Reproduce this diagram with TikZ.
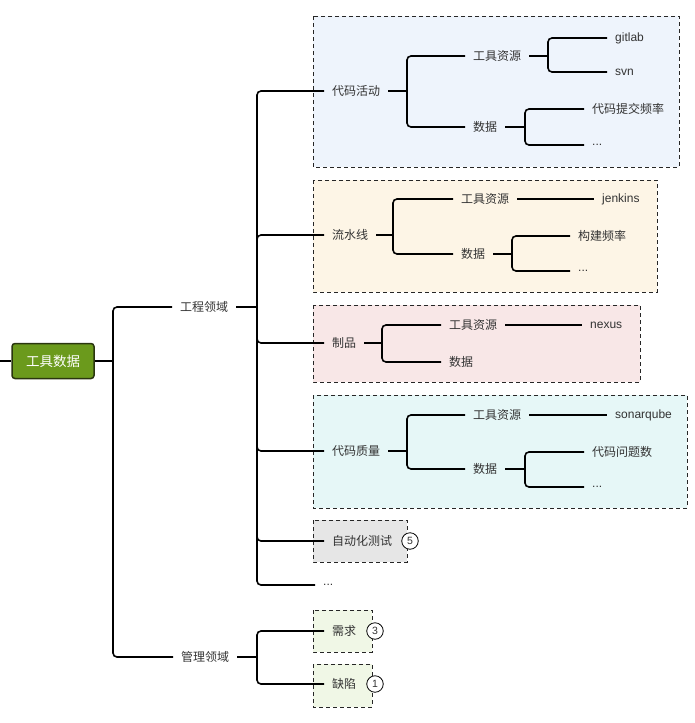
\documentclass[tikz,border=0pt]{standalone}
\usepackage{fontspec}
\setmainfont{Liberation Sans}
\newfontfamily\cjk{Noto Sans CJK SC}
\definecolor{txtc}{HTML}{333333}
\definecolor{rootg}{HTML}{6B9A1C}
\definecolor{rootb}{HTML}{2A360F}
\definecolor{fblue}{HTML}{EEF4FC}
\definecolor{forange}{HTML}{FDF5E6}
\definecolor{fpink}{HTML}{F8E7E7}
\definecolor{fcyan}{HTML}{E6F7F7}
\definecolor{fgray}{HTML}{E6E6E6}
\definecolor{fgreen}{HTML}{F0F7E6}
\tikzset{
  lat/.style={anchor=west, inner xsep=8pt, inner ysep=2pt, text=txtc, font=\fontsize{12}{14}\selectfont},
  cn/.style={anchor=west, inner xsep=8pt, inner ysep=2pt, text=txtc, font=\cjk\fontsize{12}{14}\selectfont},
  link/.style={line width=1.6pt, rounded corners=4pt},
  grp/.style={draw=black!85, dash pattern=on 4pt off 3pt, line width=0.9pt},
  badge/.style={circle, draw=black, line width=0.8pt, fill=white, inner sep=0pt, minimum size=16.5pt, text=txtc, font=\fontsize{10.5}{10.5}\selectfont},
  rootbox/.style={draw=rootb, fill=rootg, rounded corners=3pt, line width=1.5pt, minimum width=82pt, minimum height=35pt, text=white, font=\cjk\fontsize{13.5}{15}\selectfont}
}
\begin{document}
\begin{tikzpicture}[x=1pt,y=-1pt]
\useasboundingbox (0,0) rectangle (695,723);
% group boxes
\draw[grp, fill=fblue] (313,16) rectangle (679,167);
\draw[grp, fill=forange] (313,180) rectangle (657,292);
\draw[grp, fill=fpink] (313,305) rectangle (640,382);
\draw[grp, fill=fcyan] (313,395) rectangle (687,508);
\draw[grp, fill=fgray] (313,520) rectangle (407,562);
\draw[grp, fill=fgreen] (313,610) rectangle (372,652);
\draw[grp, fill=fgreen] (313,664) rectangle (372,707);

% nodes
\node[rootbox] (root) at (53,361) {工具数据};
\node[cn] (eng) at (172,307) {工程领域};
\node[cn] (mgmt) at (173,657) {管理领域};

\node[cn] (ca) at (324,91) {代码活动};
\node[cn] (lsx) at (324,235) {流水线};
\node[cn] (zp) at (324,343) {制品};
\node[cn] (zl) at (324,451) {代码质量};
\node[cn] (zd) at (324,541) {自动化测试};
\node[lat] (dots0) at (315,585) {...};
\node[cn] (xq) at (324,631) {需求};
\node[cn] (qx) at (324,684) {缺陷};

\node[badge] (b5) at (410,541) {5};
\node[badge] (b3) at (375,631) {3};
\node[badge] (b1) at (375,684) {1};

% box 1
\node[cn] (tool1) at (465,56) {工具资源};
\node[cn] (data1) at (465,127) {数据};
\node[lat] (gitlab) at (607,38) {gitlab};
\node[lat] (svn) at (607,72) {svn};
\node[cn] (freq1) at (584,109) {代码提交频率};
\node[lat] (dots1) at (584,145) {...};
% box 2
\node[cn] (tool2) at (453,199) {工具资源};
\node[cn] (data2) at (453,254) {数据};
\node[lat] (jenkins) at (594,199) {jenkins};
\node[cn] (freq2) at (570,236) {构建频率};
\node[lat] (dots2) at (570,271) {...};
% box 3
\node[cn] (tool3) at (441,325) {工具资源};
\node[cn] (data3) at (441,362) {数据};
\node[lat] (nexus) at (582,325) {nexus};
% box 4
\node[cn] (tool4) at (465,415) {工具资源};
\node[cn] (data4) at (465,469) {数据};
\node[lat] (sonar) at (607,415) {sonarqube};
\node[cn] (issues) at (584,452) {代码问题数};
\node[lat] (dots4) at (584,487) {...};

% fork coordinates
\coordinate (lstub) at (0,361);
\coordinate (f0) at (113,361);
\coordinate (f1) at (257,307);
\coordinate (f2) at (257,657);
\coordinate (fa) at (407,91);
\coordinate (fat) at (548,56);
\coordinate (fad) at (525,127);
\coordinate (fb) at (393,235);
\coordinate (fbd) at (512,254);
\coordinate (fc) at (382,343);
\coordinate (fd) at (407,451);
\coordinate (fdd) at (525,469);

% connectors
\draw[link] (lstub) -- (root.west);
\draw[link] (root.east) -- (f0);
\draw[link] (f0) |- (eng.west);
\draw[link] (f0) |- (mgmt.west);

\draw[link] (eng.east) -- (f1);
\foreach \c in {ca,lsx,zp,zl,zd,dots0} \draw[link] (f1) |- (\c.west);
\draw[link] (mgmt.east) -- (f2);
\foreach \c in {xq,qx} \draw[link] (f2) |- (\c.west);

\draw[link] (ca.east) -- (fa);
\foreach \c in {tool1,data1} \draw[link] (fa) |- (\c.west);
\draw[link] (tool1.east) -- (fat);
\foreach \c in {gitlab,svn} \draw[link] (fat) |- (\c.west);
\draw[link] (data1.east) -- (fad);
\foreach \c in {freq1,dots1} \draw[link] (fad) |- (\c.west);

\draw[link] (lsx.east) -- (fb);
\foreach \c in {tool2,data2} \draw[link] (fb) |- (\c.west);
\draw[link] (tool2.east) -- (jenkins.west);
\draw[link] (data2.east) -- (fbd);
\foreach \c in {freq2,dots2} \draw[link] (fbd) |- (\c.west);

\draw[link] (zp.east) -- (fc);
\foreach \c in {tool3,data3} \draw[link] (fc) |- (\c.west);
\draw[link] (tool3.east) -- (nexus.west);

\draw[link] (zl.east) -- (fd);
\foreach \c in {tool4,data4} \draw[link] (fd) |- (\c.west);
\draw[link] (tool4.east) -- (sonar.west);
\draw[link] (data4.east) -- (fdd);
\foreach \c in {issues,dots4} \draw[link] (fdd) |- (\c.west);
\end{tikzpicture}
\end{document}
